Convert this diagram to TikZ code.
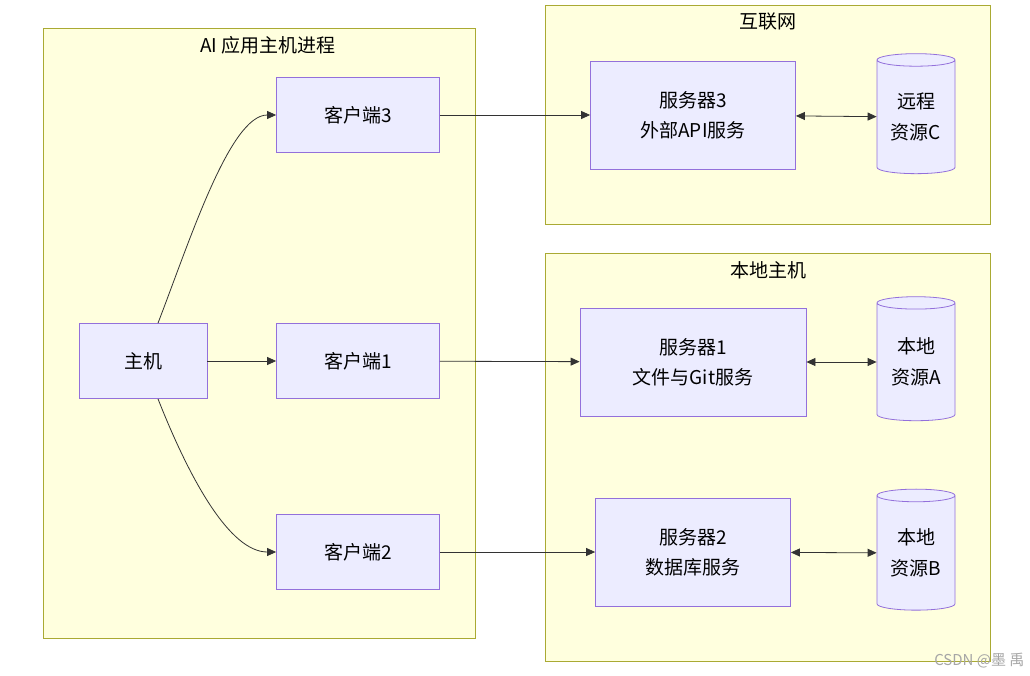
\documentclass[tikz,border=0pt]{standalone}
\usepackage{fontspec}
\setmainfont{Noto Sans CJK SC}
\usetikzlibrary{shapes.geometric,arrows.meta}
\definecolor{grpfill}{HTML}{FFFFDE}
\definecolor{grpline}{HTML}{AAAA33}
\definecolor{nodefill}{HTML}{ECECFF}
\definecolor{nodeline}{HTML}{9370DB}
\tikzset{
  grp/.style={draw=grpline, fill=grpfill, line width=0.8pt},
  box/.style={draw=nodeline, fill=nodefill, line width=0.8pt, align=center,
    inner sep=0pt, font=\fontsize{19}{30}\selectfont},
  db/.style={cylinder, shape border rotate=90, aspect=0.25, draw=nodeline,
    fill=nodefill, line width=0.8pt, align=center, minimum width=78pt,
    inner sep=0pt, font=\fontsize{19}{31}\selectfont},
  flow/.style={-{Triangle[length=9pt,width=8pt]}, line width=0.8pt, draw=black!80},
  both/.style={{Triangle[length=9pt,width=8pt]}-{Triangle[length=9pt,width=8pt]},
    line width=0.8pt, draw=black!80},
  title/.style={font=\fontsize{19}{22}\selectfont},
}
\begin{document}
\begin{tikzpicture}[x=1pt,y=-1pt]
  \useasboundingbox (0,0) rectangle (1030,676);
  % groups
  \draw[grp] (43,28) rectangle (475,638);
  \node[title] (tAI) at (268,45) {AI 应用主机进程};
  \draw[grp] (545,5) rectangle (990,224);
  \node[title] (tNet) at (768,22) {互联网};
  \draw[grp] (545,253) rectangle (990,661);
  \node[title] (tLocal) at (768,270) {本地主机};
  % nodes
  \node[box, minimum width=128pt, minimum height=75pt] (host) at (143,361) {主机};
  \node[box, minimum width=163pt, minimum height=75pt] (c3) at (358,115) {客户端3};
  \node[box, minimum width=163pt, minimum height=75pt] (c1) at (358,361) {客户端1};
  \node[box, minimum width=163pt, minimum height=75pt] (c2) at (358,552) {客户端2};
  \node[box, minimum width=205pt, minimum height=108pt] (s3) at (693,115) {服务器3\\外部API服务};
  \node[box, minimum width=226pt, minimum height=108pt] (s1) at (693,362) {服务器1\\文件与Git服务};
  \node[box, minimum width=195pt, minimum height=108pt] (s2) at (693,552) {服务器2\\数据库服务};
  \node[db, minimum height=120pt] (rC) at (916,117) {远程\\资源C};
  \node[db, minimum height=124pt] (rA) at (916,362) {本地\\资源A};
  \node[db, minimum height=121pt] (rB) at (916,553) {本地\\资源B};
  % connectors
  \draw[flow] (host.north) ++(15,0) .. controls (190,240) and (230,115) .. (c3.west);
  \draw[flow] (host) -- (c1);
  \draw[flow] (host.south) ++(15,0) .. controls (190,480) and (230,552) .. (c2.west);
  \draw[flow] (c3) -- (s3);
  \draw[flow] (c1) -- (s1);
  \draw[flow] (c2) -- (s2);
  \draw[both] (s3) -- (rC);
  \draw[both] (s1) -- (rA);
  \draw[both] (s2) -- (rB);
  \node[text=black!35, font=\fontsize{15}{16}\selectfont, anchor=south east] (mark) at (1028,672) {CSDN @墨 禹};
\end{tikzpicture}
\end{document}
